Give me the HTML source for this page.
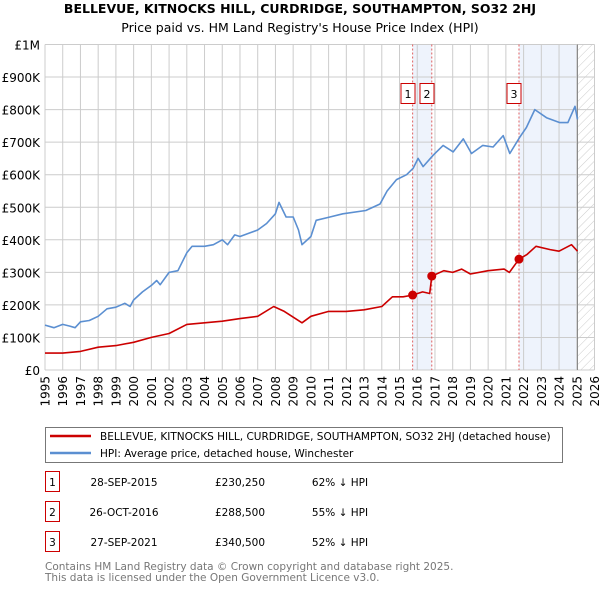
<!DOCTYPE html>
<html><head><meta charset="utf-8">
<style>
body{margin:0;background:#fff;font-family:"Liberation Sans","DejaVu Sans",sans-serif;}
svg text{font-family:"DejaVu Sans","Liberation Sans",sans-serif;}
</style></head>
<body>
<svg id="chart" width="600" height="590" xmlns="http://www.w3.org/2000/svg">
<defs>
<pattern id="hatch" width="6" height="6" patternUnits="userSpaceOnUse" patternTransform="rotate(45)">
<line x1="0" y1="0" x2="0" y2="6" stroke="#ccc" stroke-width="1"/></pattern>
</defs>
<text x="300" y="13" text-anchor="middle" font-size="12.5" font-weight="bold">BELLEVUE, KITNOCKS HILL, CURDRIDGE, SOUTHAMPTON, SO32 2HJ</text>
<text x="300" y="32" text-anchor="middle" font-size="12.5">Price paid vs. HM Land Registry's House Price Index (HPI)</text>
<g id="plot"></g>
<g>
<rect x="45.5" y="427.5" width="517" height="35" fill="#fff" stroke="#777"/>
<line x1="50" y1="436" x2="91" y2="436" stroke="#cc0000" stroke-width="2.5"/>
<text x="100" y="440" font-size="10.5">BELLEVUE, KITNOCKS HILL, CURDRIDGE, SOUTHAMPTON, SO32 2HJ (detached house)</text>
<line x1="50" y1="453" x2="91" y2="453" stroke="#5b8fd1" stroke-width="2.5"/>
<text x="100" y="457" font-size="10.5">HPI: Average price, detached house, Winchester</text>
</g>
<g id="table" font-size="10.5"></g>
<text x="45" y="570" font-size="10.5" fill="#777">Contains HM Land Registry data © Crown copyright and database right 2025.</text>
<text x="45" y="581" font-size="10.5" fill="#777">This data is licensed under the Open Government Licence v3.0.</text>
</svg>
<script>
const hpiYears=[1995,1995.5,1996,1996.4,1996.7,1997,1997.5,1998,1998.5,1999,1999.5,1999.8,2000,2000.5,2001,2001.3,2001.5,2002,2002.5,2003,2003.3,2004,2004.5,2005,2005.3,2005.7,2006,2006.5,2007,2007.5,2008,2008.2,2008.6,2009,2009.3,2009.5,2010,2010.3,2011.07,2011.8,2013.1,2013.9,2014.3,2014.83,2015.4,2015.77,2016.05,2016.33,2016.9,2017.46,2018.03,2018.6,2019.06,2019.7,2020.28,2020.85,2021.22,2021.78,2022.16,2022.63,2023.29,2024.04,2024.5,2024.9,2025.04];
const hpiValues=[138,130,140,135,130,148,152,165,188,193,205,195,215,240,260,275,262,300,305,360,380,380,385,400,385,415,410,420,430,450,480,515,470,470,430,385,410,460,470,480,490,510,550,585,600,620,650,625,660,690,670,710,665,690,685,720,665,715,745,800,775,760,760,810,770];
const ppYears=[1995,1996,1997,1998,1999,2000,2001,2002,2003,2004,2005,2006,2007,2007.9,2008.5,2009.5,2010,2011,2012,2013,2014,2014.6,2015.2,2015.74,2016.3,2016.7,2016.82,2017.5,2018,2018.5,2019,2020,2020.9,2021.2,2021.74,2022.2,2022.7,2023.5,2024,2024.7,2025.04];
const ppValues=[52,52,57,70,75,85,100,112,140,145,150,158,165,195,180,145,165,180,180,185,195,225,225,230.25,240,235,288.5,305,300,310,295,305,310,300,340.5,355,380,370,365,385,365];
const saleYears=[2015.74,2016.82,2021.74];
const saleValues=[230.25,288.5,340.5];
const saleLabels=["1","2","3"];
const saleDates=["28-SEP-2015","26-OCT-2016","27-SEP-2021"];
const salePrices=["£230,250","£288,500","£340,500"];
const salePct=["62% ↓ HPI","55% ↓ HPI","52% ↓ HPI"];
const yTicks=[0,100,200,300,400,500,600,700,800,900,1000];
const yTickLabels=["£0","£100K","£200K","£300K","£400K","£500K","£600K","£700K","£800K","£900K","£1M"];
const xTicks=[];for(let y=1995;y<=2026;y++)xTicks.push(y);

const X0=45,X1=594.5,Y0=370,Y1=44.5;
const xs=y=>X0+(y-1995)/(2026-1995)*(X1-X0);
const ys=v=>Y0-v/1000*(Y0-Y1);
const NS="http://www.w3.org/2000/svg";
const plot=document.getElementById('plot');
function mk(tag,attrs,parent){const e=document.createElementNS(NS,tag);for(const k in attrs)e.setAttribute(k,attrs[k]);(parent||plot).appendChild(e);return e;}

let s1=mk('rect',{x:xs(saleYears[0]),y:Y1,width:xs(saleYears[1])-xs(saleYears[0]),height:Y0-Y1,fill:'#eef3fc'});


let s2=mk('rect',{x:xs(saleYears[2]),y:Y1,width:xs(2025.04)-xs(saleYears[2]),height:Y0-Y1,fill:'#eef3fc'});


let h=mk('rect',{x:xs(2025.04),y:Y1,width:X1-xs(2025.04),height:Y0-Y1,fill:'url(#hatch)'});



yTicks.forEach((v,i)=>{
  const l=mk('line',{x1:X0,x2:X1,y1:ys(v),y2:ys(v),stroke:'#ccc'});
  
  
  const t=mk('text',{x:40,y:ys(v)+5,'text-anchor':'end','font-size':'12'});
  t.textContent=yTickLabels[i];
  
  
});
xTicks.forEach(y=>{
  const l=mk('line',{x1:xs(y),x2:xs(y),y1:Y1,y2:Y0,stroke:'#ccc'});
  
  
  const t=mk('text',{x:0,y:0,'font-size':'12','text-anchor':'end',transform:`translate(${xs(y)+4.5},376) rotate(-90)`});
  t.textContent=y;
  
  
});
let el=mk('line',{x1:xs(2025.04),x2:xs(2025.04),y1:Y1,y2:Y0,stroke:'#888'});



saleYears.forEach(y=>{
  const l=mk('line',{x1:xs(y),x2:xs(y),y1:Y1,y2:Y0,stroke:'#e06060','stroke-dasharray':'2,2'});
  
  
});

function path(xsA,vsA,color,name){
  const d=xsA.map((y,i)=>(i?'L':'M')+xs(y).toFixed(1)+','+ys(vsA[i]).toFixed(1)).join('');
  const p=mk('path',{d:d,fill:'none',stroke:color,'stroke-width':'1.6','stroke-linejoin':'round'});
  
  
}
path(hpiYears,hpiValues,'#5b8fd1','hpi-line');
path(ppYears,ppValues,'#cc0000','price-paid-line');

saleYears.forEach((y,i)=>{
  const c=mk('circle',{cx:xs(y),cy:ys(saleValues[i]),r:4.5,fill:'#cc0000'});
  
  
});
const boxX=[408,427,514];
saleLabels.forEach((lab,i)=>{
  const r=mk('rect',{x:boxX[i]-7,y:83.5,width:14,height:20,fill:'#fff',stroke:'#cc0000'});
  
  
  const t=mk('text',{x:boxX[i],y:98,'text-anchor':'middle','font-size':'11'});
  t.textContent=lab;
  
  
});

const tbl=document.getElementById('table');
saleLabels.forEach((lab,i)=>{
  const yy=483+i*30;
  const r=mk('rect',{x:45.5,y:yy-11.5,width:14,height:20,fill:'#fff',stroke:'#cc0000'},tbl);
  
  
  const cells=[[52.5,lab,'middle'],[124,saleDates[i],'middle'],[240,salePrices[i],'middle'],[340,salePct[i],'middle']];
  cells.forEach(c=>{
    const t=mk('text',{x:c[0],y:yy+3,'text-anchor':c[2],'font-size':'10.5'},tbl);
    t.textContent=c[1];
    
    
  });
});
</script>
</body></html>
